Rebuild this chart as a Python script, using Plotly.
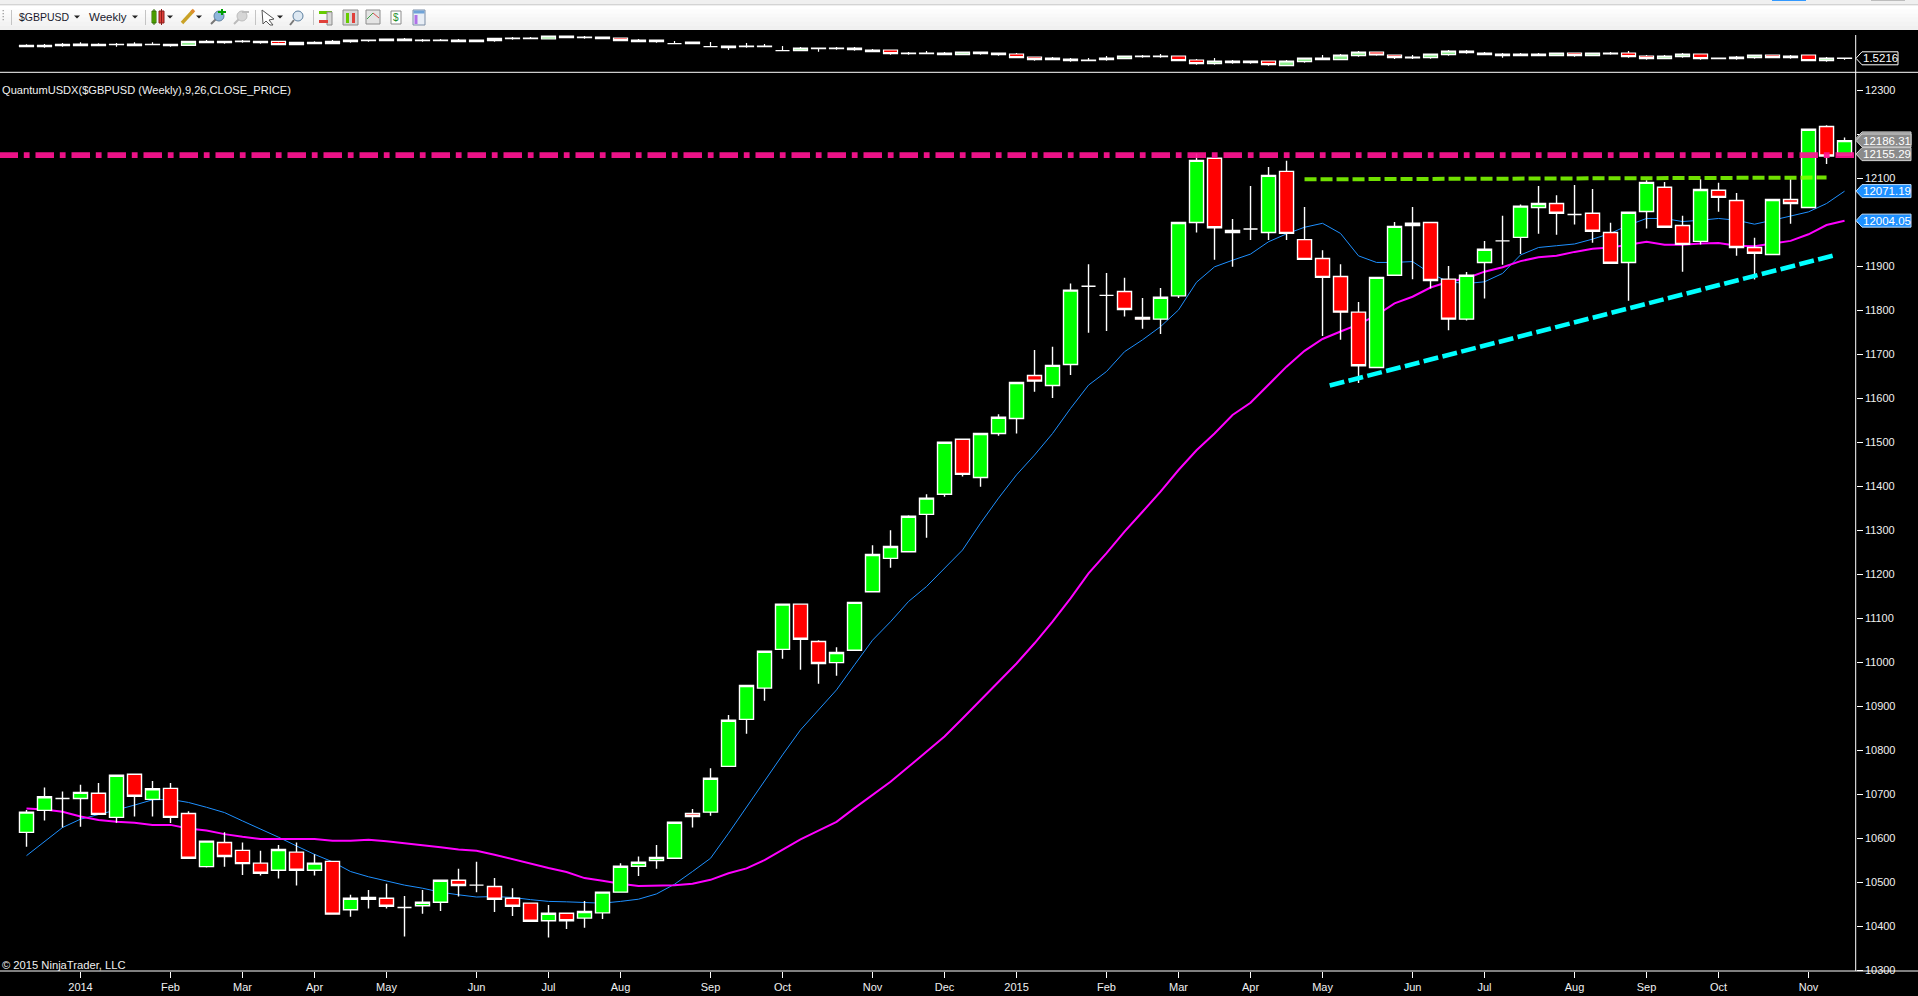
import plotly.graph_objects as go

W, H = 1918, 996

week_index = list(range(102))
open_px = [10613,10663,10690,10690,10702,10647,10745,10688,10713,10656,10535,10590,10572,10543,10527,10568,10527,10547,10437,10461,10463,10442,10446,10454,10504,10493,10490,10463,10452,10412,10429,10418,10430,10477,10536,10549,10554,10656,10659,10763,10870,10941,11029,11132,11047,10999,11027,11160,11236,11251,11336,11382,11507,11420,11520,11554,11652,11629,11677,11855,11834,11843,11784,11780,11833,12000,12146,11977,11985,11977,12116,11961,11918,11877,11796,11670,11880,11993,12000,11871,11780,11909,11958,11966,12034,12043,12018,12021,11977,11909,12025,12080,11993,11957,12073,12050,11943,11927,12052,12034,12218,12153]
high_px = [10664,10715,10706,10721,10725,10743,10745,10730,10725,10661,10593,10613,10590,10571,10584,10590,10563,10547,10471,10482,10496,10468,10482,10504,10530,10546,10509,10486,10452,10448,10429,10457,10477,10543,10558,10584,10636,10666,10759,10880,10947,11025,11132,11132,11050,11034,11136,11266,11300,11334,11382,11500,11507,11520,11564,11636,11710,11717,11861,11905,11885,11874,11828,11851,12000,12157,12146,12008,12083,12126,12140,12035,11937,11905,11819,11875,12001,12035,12000,11901,11887,11958,12015,12041,12083,12062,12085,12076,11999,12023,12096,12092,12015,12098,12090,12067,11965,12052,12098,12212,12221,12193]
low_px = [10580,10640,10624,10626,10653,10635,10649,10649,10634,10553,10533,10535,10516,10515,10508,10492,10515,10427,10421,10440,10440,10376,10428,10434,10467,10477,10432,10423,10411,10374,10393,10396,10416,10477,10514,10530,10554,10624,10651,10763,10837,10912,11008,10983,10951,10969,11027,11160,11215,11251,11283,11376,11422,11399,11515,11520,11615,11601,11653,11749,11753,11786,11758,11746,11828,11977,11915,11899,11960,11960,11960,11916,11742,11733,11635,11670,11880,11871,11850,11755,11777,11827,11904,11928,11974,11972,11995,11954,11907,11822,11986,11989,11888,11950,12024,11924,11870,11927,11997,12034,12133,12153]
close_px = [10659,10694,10690,10704,10654,10743,10695,10712,10647,10554,10593,10558,10542,10520,10574,10527,10543,10427,10463,10465,10445,10442,10454,10504,10492,10493,10461,10445,10411,10429,10412,10433,10477,10536,10545,10556,10636,10649,10736,10868,10947,11025,11132,11052,10997,11022,11136,11245,11263,11332,11373,11500,11427,11520,11557,11636,11639,11675,11846,11855,11834,11802,11780,11830,12000,12141,11988,11982,11985,12107,11975,11916,11875,11796,11674,11875,11991,11998,11868,11780,11880,11939,11958,12037,12043,12021,12018,11980,11907,12023,12091,11989,11950,12075,12057,11943,11930,12052,12043,12212,12151,12186]

ema_fast = [10560,10592,10624,10643,10653,10664,10675,10687,10688,10681,10670,10658,10639,10621,10602,10582,10563,10546,10524,10512,10503,10493,10486,10477,10471,10466,10467,10465,10460,10456,10455,10453,10452,10456,10461,10473,10495,10524,10554,10611,10671,10728,10789,10846,10891,10937,10994,11050,11092,11138,11172,11213,11255,11316,11373,11426,11471,11520,11577,11630,11661,11706,11733,11763,11801,11864,11899,11914,11928,11956,11974,11989,11998,11975,11924,11909,11909,11911,11884,11865,11861,11865,11884,11926,11943,11947,11951,11962,11975,11994,12009,12009,12002,12005,12009,12005,11996,12005,12015,12024,12043,12071]
ema_slow = [10667,10665,10660,10649,10641,10637,10635,10630,10630,10622,10617,10609,10603,10598,10598,10598,10598,10594,10594,10596,10593,10588,10584,10579,10574,10571,10562,10552,10541,10532,10523,10509,10503,10496,10491,10492,10493,10496,10505,10520,10531,10550,10573,10597,10617,10637,10668,10698,10728,10762,10797,10831,10872,10914,10956,10997,11043,11092,11145,11202,11248,11297,11342,11388,11437,11482,11520,11562,11590,11630,11672,11708,11735,11752,11768,11789,11816,11831,11852,11865,11873,11888,11898,11912,11921,11924,11933,11940,11943,11949,11956,11949,11949,11952,11953,11947,11946,11952,11958,11973,11994,12004]

mini_open = [1.6266,1.6266,1.6356,1.6356,1.6356,1.6446,1.6356,1.6446,1.6356,1.6386,1.6626,1.6626,1.6716,1.6626,1.6746,1.6446,1.6536,1.6536,1.6716,1.6806,1.6806,1.6806,1.6806,1.6806,1.6716,1.6716,1.6806,1.6986,1.6986,1.6956,1.7076,1.7076,1.6986,1.7046,1.6716,1.6716,1.6536,1.6536,1.6266,1.6176,1.6266,1.6266,1.5906,1.5906,1.6086,1.6086,1.5996,1.5816,1.5966,1.5636,1.5636,1.5546,1.5546,1.5636,1.5546,1.5606,1.5336,1.5096,1.5006,1.5006,1.5096,1.5186,1.5366,1.5366,1.5426,1.5066,1.4736,1.4826,1.4826,1.4976,1.4556,1.4916,1.5096,1.5096,1.5456,1.5786,1.5516,1.5246,1.5276,1.5546,1.5726,1.5546,1.5456,1.5456,1.5456,1.5456,1.5696,1.5456,1.5606,1.5696,1.5426,1.5186,1.5366,1.5606,1.5186,1.5186,1.5276,1.5516,1.5276,1.5516,1.5006,1.5246]
mini_high = [1.6476,1.6506,1.6596,1.6656,1.6566,1.6596,1.6656,1.6656,1.6476,1.6746,1.6866,1.6746,1.6866,1.6746,1.6656,1.6656,1.6746,1.6866,1.6866,1.6866,1.6956,1.7046,1.6956,1.6956,1.6956,1.6866,1.7016,1.7136,1.7136,1.7226,1.7226,1.7226,1.7136,1.7046,1.6956,1.6866,1.6776,1.6686,1.6686,1.6326,1.6596,1.6506,1.6326,1.6236,1.6146,1.6236,1.6236,1.6056,1.5966,1.5786,1.5876,1.5786,1.5786,1.5786,1.5696,1.5696,1.5336,1.5336,1.5246,1.5246,1.5426,1.5426,1.5516,1.5606,1.5426,1.5156,1.5246,1.5066,1.4976,1.4976,1.5066,1.5246,1.5516,1.5606,1.5876,1.5786,1.5516,1.5516,1.5606,1.5966,1.5966,1.5786,1.5696,1.5696,1.5696,1.5696,1.5696,1.5696,1.5786,1.5876,1.5516,1.5516,1.5696,1.5606,1.5246,1.5426,1.5516,1.5516,1.5516,1.5516,1.5336,1.5246]
mini_low = [1.6266,1.6176,1.6266,1.6356,1.6356,1.6266,1.6356,1.6446,1.6266,1.6386,1.6626,1.6536,1.6626,1.6536,1.6446,1.6446,1.6536,1.6536,1.6626,1.6716,1.6806,1.6806,1.6716,1.6806,1.6716,1.6716,1.6716,1.6896,1.6986,1.6956,1.7076,1.6986,1.6986,1.6806,1.6716,1.6626,1.6536,1.6536,1.6266,1.5966,1.6176,1.6266,1.5906,1.5906,1.5816,1.5996,1.5906,1.5816,1.5546,1.5546,1.5636,1.5546,1.5546,1.5546,1.5456,1.5276,1.5006,1.5096,1.4916,1.5006,1.4996,1.5186,1.5276,1.5276,1.4996,1.4646,1.4646,1.4736,1.4736,1.4556,1.4556,1.4826,1.5096,1.5096,1.5366,1.5456,1.5156,1.5156,1.5186,1.5456,1.5636,1.5546,1.5276,1.5456,1.5456,1.5456,1.5366,1.5456,1.5546,1.5276,1.5096,1.5126,1.5276,1.5096,1.5126,1.5096,1.5186,1.5276,1.5186,1.4996,1.4916,1.5096]
mini_close = [1.6386,1.6386,1.6476,1.6506,1.6476,1.6476,1.6506,1.6476,1.6476,1.6746,1.6746,1.6746,1.6776,1.6746,1.6446,1.6656,1.6656,1.6746,1.6866,1.6866,1.6956,1.6956,1.6866,1.6866,1.6866,1.6866,1.7016,1.7046,1.7046,1.7226,1.7226,1.7136,1.7136,1.6806,1.6866,1.6866,1.6536,1.6686,1.6266,1.6326,1.6326,1.6326,1.5906,1.6146,1.6146,1.6146,1.6146,1.5966,1.5636,1.5696,1.5696,1.5696,1.5786,1.5786,1.5696,1.5276,1.5096,1.5246,1.5156,1.5066,1.5246,1.5426,1.5426,1.5426,1.5006,1.4736,1.4976,1.4976,1.4976,1.4646,1.4976,1.5246,1.5246,1.5516,1.5786,1.5516,1.5276,1.5336,1.5606,1.5876,1.5876,1.5696,1.5606,1.5606,1.5606,1.5696,1.5456,1.5696,1.5696,1.5366,1.5186,1.5426,1.5606,1.5186,1.5246,1.5336,1.5516,1.5276,1.5426,1.5006,1.5246,1.5216]

month_ticks = [3,8,12,16,20,25,29,33,38,42,47,51,55,60,64,68,72,77,81,86,90,94,99]
month_labels = ["2014","Feb","Mar","Apr","May","Jun","Jul","Aug","Sep","Oct","Nov","Dec","2015","Feb","Mar","Apr","May","Jun","Jul","Aug","Sep","Oct","Nov"]
price_ticks = list(range(10300, 12400, 100))
price_labels = ["" if v in (12000, 12200) else str(v) for v in price_ticks]

resistance_x, resistance_y = [-1.5, 101.6], [12153, 12153]
neckline_x, neckline_y = [71, 100], [12098, 12102]
support_x, support_y = [72.4, 100.5], [11629, 11926]

FONT = "Liberation Sans"
TXT = "#f0f0f0"
px = lambda x: x / W
py = lambda y: 1 - y / H

fig = go.Figure()

# moving averages sit underneath the candles
fig.add_trace(go.Scatter(x=week_index, y=ema_fast, mode="lines", line=dict(color="#1E90FF", width=1), hoverinfo="skip", xaxis="x", yaxis="y"))
fig.add_trace(go.Scatter(x=week_index, y=ema_slow, mode="lines", line=dict(color="#FF00FF", width=2), hoverinfo="skip", xaxis="x", yaxis="y"))

candle_style = dict(
    whiskerwidth=0, hoverinfo="skip",
    increasing=dict(fillcolor="#00FF00", line=dict(color="#FFFFFF", width=1.4)),
    decreasing=dict(fillcolor="#FF0000", line=dict(color="#FFFFFF", width=1.4)),
)
fig.add_trace(go.Candlestick(x=week_index, open=open_px, high=high_px, low=low_px, close=close_px, xaxis="x", yaxis="y3", **candle_style))

fig.add_trace(go.Candlestick(
    x=week_index, open=mini_open, high=mini_high, low=mini_low, close=mini_close, xaxis="x", yaxis="y2",
    whiskerwidth=0, hoverinfo="skip",
    increasing=dict(fillcolor="#90EE90", line=dict(color="#FFFFFF", width=1.2)),
    decreasing=dict(fillcolor="#FF0000", line=dict(color="#FFFFFF", width=1.2)),
))

# drawn trend lines sit on top of the candles
fig.add_trace(go.Scatter(x=resistance_x, y=resistance_y, mode="lines", opacity=0.92, line=dict(color="#FF1493", width=5.8, dash="18.5px,5.8px,5.8px,5.9px"), hoverinfo="skip", xaxis="x", yaxis="y4"))
fig.add_trace(go.Scatter(x=neckline_x, y=neckline_y, mode="lines", opacity=0.88, line=dict(color="#7FFF00", width=4, dash="12px,4px"), hoverinfo="skip", xaxis="x", yaxis="y4"))
fig.add_trace(go.Scatter(x=support_x, y=support_y, mode="lines", line=dict(color="#00FFFF", width=4.6, dash="15px,4.4px"), hoverinfo="skip", xaxis="x", yaxis="y4"))

shapes = []
annots = []

def rect(x0, y0, x1, y1, fill, line=None, lw=1, layer="above"):
    shapes.append(dict(type="rect", xref="paper", yref="paper", x0=px(x0), x1=px(x1), y0=py(y0), y1=py(y1),
                       fillcolor=fill, line=dict(color=line or fill, width=lw if line else 0), layer=layer))

def seg(x0, y0, x1, y1, color, lw=1):
    shapes.append(dict(type="line", xref="paper", yref="paper", x0=px(x0), x1=px(x1), y0=py(y0), y1=py(y1),
                       line=dict(color=color, width=lw), layer="above"))

def circ(x0, y0, x1, y1, fill, line):
    shapes.append(dict(type="circle", xref="paper", yref="paper", x0=px(x0), x1=px(x1), y0=py(y0), y1=py(y1),
                       fillcolor=fill, line=dict(color=line, width=1), layer="above"))

def tri(cx, cy, color="#222222"):
    shapes.append(dict(type="path", xref="paper", yref="paper",
                       path=f"M {px(cx-3)} {py(cy-1.5)} L {px(cx+3)} {py(cy-1.5)} L {px(cx)} {py(cy+1.5)} Z",
                       fillcolor=color, line=dict(width=0), layer="above"))

def text(x, y, s, size=10.67, color=TXT, anchor="left"):
    annots.append(dict(xref="paper", yref="paper", x=px(x), y=py(y), text=s, showarrow=False,
                       xanchor=anchor, yanchor="middle", font=dict(family=FONT, size=size, color=color), borderpad=0, borderwidth=0))

def tag(value, label, fill, edge, yref, right=1911):
    unit = 1 / 0.43975 if yref == "y" else 0.381 / 42.3
    half = 6.5 * unit
    p = (f"M {px(1856)} {value} L {px(1862)} {value+half} L {px(right)} {value+half} "
         f"L {px(right)} {value-half} L {px(1862)} {value-half} Z")
    shapes.append(dict(type="path", xref="paper", yref=yref, path=p, fillcolor=fill,
                       line=dict(color=edge, width=1), layer="above"))
    if label:
        annots.append(dict(xref="paper", yref=yref, x=px((1863 + right) / 2), y=value, text=label, showarrow=False,
                           xanchor="center", yanchor="middle", font=dict(family=FONT, size=11.5, color="#FFFFFF")))

# title bar and toolbar: each band runs to the toolbar bottom so no seams show
rect(0, 0, W, 5, "#F0F0F0")
for k, col in enumerate(["#FFFFFF", "#FCFCFC", "#F9F9F9", "#F6F6F6", "#F3F3F3", "#F0F0F0"]):
    rect(0, 5 + k * 4.2, W, 30, col)
seg(0, 4.8, W, 4.8, "#C8C8C8", 1)
rect(1772, 0, 1806, 1, "#3399FF")
rect(1871, 0, 1905, 1, "#BDBDBD")
for gy in (10, 13, 16, 19):
    rect(2.5, gy, 4, gy + 1.2, "#A8A8A8")
for sx in (11.5, 145.5, 255.5, 313.5):
    seg(sx, 10, sx, 25, "#C4C4C4", 1)
text(19, 17, "$GBPUSD", 10.5, "#1A1A2E")
tri(77, 17)
text(89, 17, "Weekly", 11.5, "#1A1A2E")
tri(135, 17)
# chart style icon
rect(152, 11, 156, 23, "#66CC00", "#2F6B00", 1)
seg(154, 9, 154, 25, "#2F6B00", 1)
rect(159, 11, 164, 23, "#E0403A", "#8A1D1A", 1)
seg(161.5, 9, 161.5, 25, "#8A1D1A", 1)
tri(170, 17)
# pencil
seg(182, 23, 193, 11, "#C9A227", 3.4)
seg(191.5, 12.5, 194, 10, "#E08A30", 3.4)
tri(199, 17)
# magnifiers
seg(211, 24, 216, 19, "#777777", 2)
circ(214, 11, 224, 21, "#8FB6DC", "#5C7F9F")
seg(218, 12, 226, 12, "#00A000", 2)
seg(222, 9, 222, 15, "#00A000", 2)
seg(234, 24, 239, 19, "#BBBBBB", 2)
circ(237, 11, 247, 21, "#D6D6D6", "#BDBDBD")
seg(242, 12, 249, 12, "#BDBDBD", 2)
# cursor
shapes.append(dict(type="path", xref="paper", yref="paper",
                   path=f"M {px(262)} {py(10)} L {px(274)} {py(19)} L {px(269)} {py(20)} L {px(273)} {py(25)} L {px(270)} {py(25)} L {px(266)} {py(21)} L {px(263)} {py(24)} Z",
                   fillcolor="#FFFFFF", line=dict(color="#555555", width=1), layer="above"))
tri(280, 17)
circ(293, 11, 303, 21, "#DDE8F2", "#5C7F9F")
seg(290, 25, 294, 20, "#777777", 2)
# window icons
rect(319, 11, 332, 14, "#66CC00")
rect(327, 12, 332, 25, "#D8D8D8", "#8C8C8C", 1)
rect(319, 20, 328, 23, "#E0403A")
rect(343, 10, 358, 25, "#D8D8D8", "#8C8C8C", 1)
rect(346, 13, 349, 23, "#66CC00")
rect(352, 13, 355, 23, "#E0403A")
rect(366, 10, 380, 24, "#E4E4E4", "#8C8C8C", 1)
seg(367, 19, 373, 13, "#3DA84A", 1)
seg(373, 13, 379, 18, "#D94C4C", 1)
rect(391, 11, 401, 24, "#FFFFFF", "#8C8C8C", 1)
text(396, 17.5, "$", 10, "#1E8F2E", "center")
rect(413, 10, 425, 25, "#E8EEF6", "#7C8EA6", 1)
rect(413.5, 10.5, 424.5, 13.5, "#6FA3D8")
rect(414.5, 15, 417.5, 24, "#B070E8")

# frame lines
seg(0, 72.3, W, 72.3, "#FFFFFF", 1)
seg(1855.7, 35, 1855.7, 971, "#FFFFFF", 1)
seg(0, 971, W, 971, "#FFFFFF", 1)

# price tags
tag(1.5216, "1.5216", "#000000", "#FFFFFF", "y2", right=1898)
tag(12191, "", "#8A8A8A", "#D0D0D0", "y")
tag(12186.31, "12186.31", "#8A8A8A", "#D0D0D0", "y")
tag(12155.29, "12155.29", "#8A8A8A", "#D0D0D0", "y")
tag(12071.19, "12071.19", "#1E90FF", "#BFE0FF", "y")
tag(12004.05, "12004.05", "#1E90FF", "#BFE0FF", "y")

text(2, 90, "QuantumUSDX($GBPUSD (Weekly),9,26,CLOSE_PRICE)", 11.1)
text(2, 964.5, "© 2015 NinjaTrader, LLC", 11.2)

y_main_top, y_main_bot = 72.3, 971
v_at = lambda y: 12300 - (y - 90.5) / 0.43975
main_range = [v_at(y_main_bot), v_at(y_main_top)]
main_domain = [py(y_main_bot), py(y_main_top)]
hidden = dict(visible=False, showgrid=False, zeroline=False, fixedrange=True, automargin=False)

fig.update_layout(
    width=W, height=H, autosize=False,
    margin=dict(l=0, r=0, t=0, b=0, pad=0),
    paper_bgcolor="#000000", plot_bgcolor="#000000",
    showlegend=False, boxgap=0.22, boxgroupgap=0, hovermode=False,
    font=dict(family=FONT, size=11, color=TXT),
    xaxis=dict(domain=[0, 1855.7 / W], range=[-1.472, 101.62], type="linear", automargin=False,
               rangeslider=dict(visible=False), showgrid=False, zeroline=False, showline=False,
               tickmode="array", tickvals=month_ticks, ticktext=month_labels,
               ticks="outside", ticklen=6, tickcolor="#FFFFFF", tickwidth=1,
               tickfont=dict(family=FONT, size=11, color=TXT), anchor="y"),
    yaxis=dict(domain=main_domain, range=main_range, side="right", automargin=False, showgrid=False, zeroline=False, showline=False,
               tickmode="array", tickvals=price_ticks, ticktext=price_labels,
               ticks="outside", ticklen=6, tickcolor="#FFFFFF", tickwidth=1,
               tickfont=dict(family=FONT, size=11, color=TXT), anchor="x"),
    yaxis2=dict(domain=[py(72.3), py(30)], range=[1.3956, 1.7766], **hidden),
    yaxis3=dict(overlaying="y", range=main_range, **hidden),
    yaxis4=dict(overlaying="y", range=main_range, **hidden),
    shapes=shapes, annotations=annots,
)

fig.write_html("out.html", config=dict(displayModeBar=False, staticPlot=True),
               post_script=("var d=document.documentElement;d.style.margin='0';d.style.height='996px';d.style.overflow='hidden';"
                            "var b=document.body;b.style.margin='0';b.style.height='996px';b.style.overflow='hidden';b.style.background='#000';"
                            "for(var c of b.children){c.style.display='block';c.style.height='996px';}"))
